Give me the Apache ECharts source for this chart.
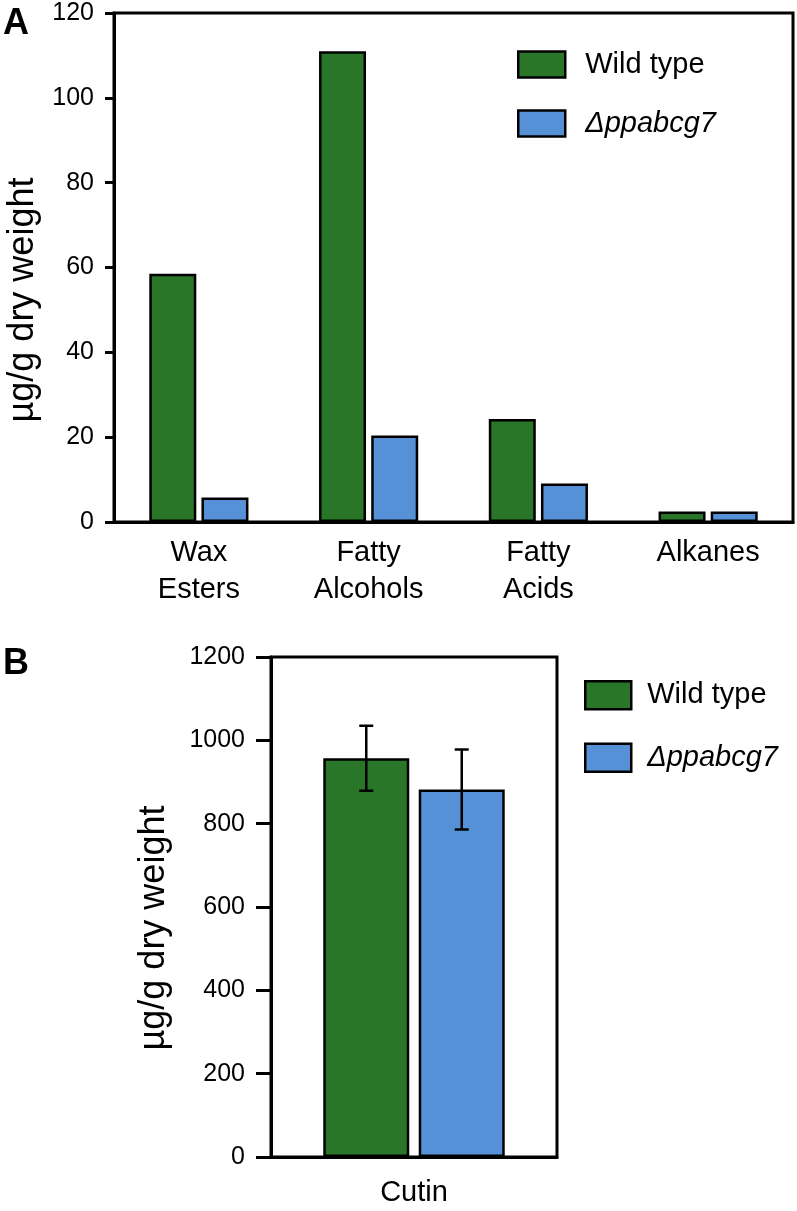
<!DOCTYPE html>
<html lang="en">
<head>
    <meta charset="UTF-8">
    <title>Wax and cutin</title>
    <script src="https://cdn.jsdelivr.net/npm/echarts@6/dist/echarts.min.js"></script>
    <style>
      html, body { margin: 0; padding: 0; background: #fff; }
    </style>
</head>
<body>
    <div id="main" style="width: 797px;height:1211px;"></div>
</body>

<script>
  // panel A: wax components
  const catsA = ['Wax\nEsters', 'Fatty\nAlcohols', 'Fatty\nAcids', 'Alkanes']
  const wildA = [58.5, 111, 24.3, 2.5]
  const mutA = [5.8, 20.4, 9.1, 2.5]

  // panel B: cutin, mean and error
  const catsB = ['Cutin']
  const wildB = [957]
  const mutB = [882]
  const wildErrB = [78]
  const mutErrB = [96]

  const seriesNames = ['Wild type', 'Δppabcg7']

  const FONT = "'Liberation Sans', Arial, sans-serif"
  const GREEN = '#2a7629'
  const BLUE = '#5690d6'
  const BAR_W_B = 86
  const GAP_B = 0.11

  const myChart = echarts.init(document.getElementById('main'))

  const barStyle = (c) => ({ color: c, borderColor: '#000', borderWidth: 2.5 })

  // error bars drawn next to the bars, using the same bar width/gap
  function errorRender(side) {
    return function (params, api) {
      const lo = api.coord([api.value(0), api.value(1)])
      const hi = api.coord([api.value(0), api.value(2)])
      const x = lo[0] + side * (BAR_W_B * (1 + GAP_B)) / 2
      const cap = 7
      const style = { stroke: '#000', lineWidth: 2.5 }
      return {
        type: 'group',
        children: [
          { type: 'line', shape: { x1: x, y1: lo[1], x2: x, y2: hi[1] }, style },
          { type: 'line', shape: { x1: x - cap, y1: lo[1], x2: x + cap, y2: lo[1] }, style },
          { type: 'line', shape: { x1: x - cap, y1: hi[1], x2: x + cap, y2: hi[1] }, style }
        ]
      }
    }
  }

  const errData = (means, errs) => means.map((m, i) => [i, m - errs[i], m + errs[i]])

  function legendFor(pad) {
    return {
      orient: 'vertical',
      icon: 'rect',
      itemStyle: { borderColor: '#000', borderWidth: 2.5 },
      textStyle: { fontSize: 29, fontFamily: FONT, color: '#000', padding: [0, 0, 0, pad] },
      data: [
        { name: seriesNames[0] },
        { name: seriesNames[1], textStyle: { fontStyle: 'italic' } }
      ]
    }
  }

  const axisLineStyle = { color: '#000', width: 3 }

  const option = {
    animation: false,
    backgroundColor: '#fff',
    textStyle: { fontFamily: FONT },
    grid: [
      { left: 114, right: 4, top: 13, bottom: 689, show: true, borderColor: '#000', borderWidth: 3 },
      { left: 271, right: 240, top: 657, bottom: 44, show: true, borderColor: '#000', borderWidth: 3 }
    ],
    legend: [
      { ...legendFor(15), left: 512, top: 45, itemWidth: 47, itemHeight: 26, itemGap: 30 },
      { ...legendFor(11), left: 579, top: 675, itemWidth: 46, itemHeight: 28, itemGap: 32 }
    ],
    xAxis: [
      {
        type: 'category', gridIndex: 0, data: catsA,
        axisLine: { lineStyle: axisLineStyle },
        axisTick: { length: 9, lineStyle: { color: '#000', width: 2.5 }, interval: (i) => i > 0 },
        axisLabel: { fontSize: 29, lineHeight: 37, margin: 12, color: '#000', fontFamily: FONT }
      },
      {
        type: 'category', gridIndex: 1, data: catsB,
        axisLine: { lineStyle: axisLineStyle },
        axisTick: { show: false },
        axisLabel: { fontSize: 29, lineHeight: 37, margin: 17, color: '#000', fontFamily: FONT }
      }
    ],
    yAxis: [
      {
        type: 'value', gridIndex: 0, min: 0, max: 120, interval: 20,
        axisLine: { show: true, lineStyle: axisLineStyle },
        axisTick: { show: true, length: 9, lineStyle: { color: '#000', width: 3 } },
        axisLabel: { fontSize: 25, margin: 20, color: '#000', fontFamily: FONT },
        splitLine: { show: false }
      },
      {
        type: 'value', gridIndex: 1, min: 0, max: 1200, interval: 200,
        axisLine: { show: true, lineStyle: axisLineStyle },
        axisTick: { show: true, length: 15, lineStyle: { color: '#000', width: 3 } },
        axisLabel: { fontSize: 25, margin: 26, color: '#000', fontFamily: FONT, formatter: (v) => String(v) },
        splitLine: { show: false }
      }
    ],
    graphic: [
      { type: 'text', left: 3, top: 6, style: { text: 'A', fontSize: 36, fontWeight: 'bold', fontFamily: FONT, fill: '#000' } },
      { type: 'text', left: 3, top: 646, style: { text: 'B', fontSize: 36, fontWeight: 'bold', fontFamily: FONT, fill: '#000' } },
      { type: 'text', x: 23, y: 300, rotation: Math.PI / 2,
        style: { text: 'µg/g dry weight', fontSize: 36, fontFamily: FONT, fill: '#000', align: 'center', verticalAlign: 'middle' } },
      { type: 'text', x: 154, y: 928, rotation: Math.PI / 2,
        style: { text: 'µg/g dry weight', fontSize: 36, fontFamily: FONT, fill: '#000', align: 'center', verticalAlign: 'middle' } }
    ],
    series: [
      { name: seriesNames[0], type: 'bar', xAxisIndex: 0, yAxisIndex: 0, data: wildA,
        barWidth: 47, barGap: '11%', itemStyle: barStyle(GREEN) },
      { name: seriesNames[1], type: 'bar', xAxisIndex: 0, yAxisIndex: 0, data: mutA,
        barWidth: 47, barGap: '11%', itemStyle: barStyle(BLUE) },
      { name: seriesNames[0], type: 'bar', xAxisIndex: 1, yAxisIndex: 1, data: wildB,
        barWidth: BAR_W_B, barGap: (GAP_B * 100) + '%', itemStyle: barStyle(GREEN) },
      { name: seriesNames[1], type: 'bar', xAxisIndex: 1, yAxisIndex: 1, data: mutB,
        barWidth: BAR_W_B, barGap: (GAP_B * 100) + '%', itemStyle: barStyle(BLUE) },
      { name: seriesNames[0], type: 'custom', xAxisIndex: 1, yAxisIndex: 1, z: 5,
        renderItem: errorRender(-1), data: errData(wildB, wildErrB), encode: { x: 0, y: [1, 2] } },
      { name: seriesNames[1], type: 'custom', xAxisIndex: 1, yAxisIndex: 1, z: 5,
        renderItem: errorRender(1), data: errData(mutB, mutErrB), encode: { x: 0, y: [1, 2] } }
    ]
  }

  myChart.setOption(option)
</script>

</html>
